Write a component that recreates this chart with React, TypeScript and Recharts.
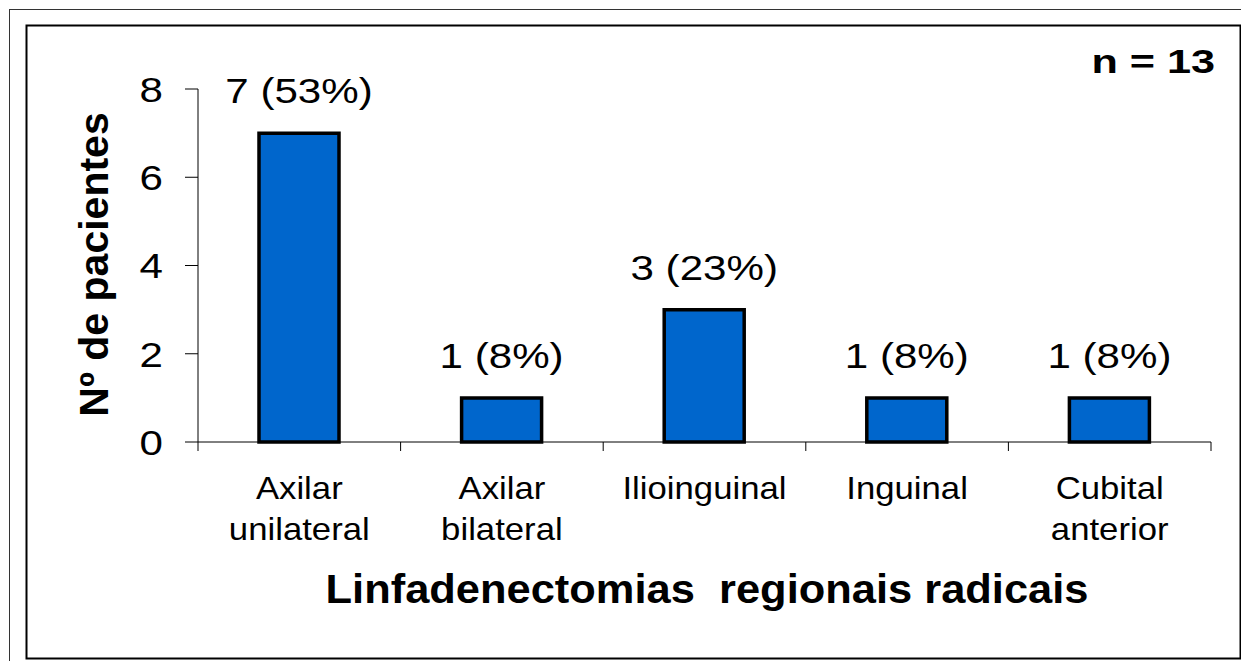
import React from "react";
import { BarChart, Bar, XAxis, YAxis, LabelList, Label } from "recharts";

const categories: string[] = ["Axilar\nunilateral", "Axilar\nbilateral", "Ilioinguinal", "Inguinal", "Cubital\nanterior"];
const patients: number[] = [7, 1, 3, 1, 1];
const percents: number[] = [53, 8, 23, 8, 8];
const yTicks: number[] = [0, 2, 4, 6, 8];
const xTitle = "Linfadenectomias  regionais radicais";
const yTitle = "Nº de pacientes";
const nLabel = "n = 13";

const data = categories.map((name, i) => ({ name, value: patients[i], pct: percents[i] }));

const W = 1241;
const H = 653;
const MARGIN = { top: 81, right: 38, bottom: 0, left: 0 };
const Y_AXIS_W = 190;
const X_AXIS_H = 219;
const PLOT_W = W - MARGIN.left - MARGIN.right - Y_AXIS_W;
const BAND = PLOT_W / categories.length;
const FONT = "'Liberation Sans', Arial, Helvetica, sans-serif";

const YTick = (props: any) => {
  const { x, y, payload } = props;
  return (
    <text
      transform={`translate(${x},${y}) scale(1.17,1)`}
      x={0}
      y={0}
      dy="0.355em"
      textAnchor="end"
      fontFamily={FONT}
      fontSize={36}
      fill="#000"
    >
      {payload.value}
    </text>
  );
};

const XTick = (props: any) => {
  const { x, y, payload, index } = props;
  const lines = String(payload.value).split("\n");
  const isLast = index === categories.length - 1;
  return (
    <g>
      <line x1={x - BAND / 2} x2={x - BAND / 2} y1={y} y2={y + 9} stroke="#000" strokeWidth={1} />
      {isLast && <line x1={x + BAND / 2} x2={x + BAND / 2} y1={y} y2={y + 9} stroke="#000" strokeWidth={1} />}
      {lines.map((ln, i) => (
        <text
          key={i}
          transform={`translate(${x},${y + 57 + i * 41}) scale(1.12,1)`}
          x={0}
          y={0}
          textAnchor="middle"
          fontFamily={FONT}
          fontSize={31}
          fill="#000"
        >
          {ln}
        </text>
      ))}
    </g>
  );
};

const BarLabel = (props: any) => {
  const { x, y, width, index } = props;
  const cx = Number(x) + Number(width) / 2;
  const txt = `${patients[index]} (${percents[index]}%)`;
  return (
    <text
      transform={`translate(${cx},${Number(y) - 30}) scale(1.17,1)`}
      x={0}
      y={0}
      textAnchor="middle"
      fontFamily={FONT}
      fontSize={36}
      fill="#000"
    >
      {txt}
    </text>
  );
};

const YTitle = () => (
  <text
    transform={`translate(100,256.5) rotate(-90)`}
    x={0}
    y={0}
    textAnchor="middle"
    fontFamily={FONT}
    fontSize={41}
    fontWeight="bold"
    fill="#000"
  >
    {yTitle}
  </text>
);

const XTitle = () => (
  <text
    transform={`translate(699,595) scale(1.06,1)`}
    x={0}
    y={0}
    textAnchor="middle"
    fontFamily={FONT}
    fontSize={41}
    fontWeight="bold"
    fill="#000"
    style={{ whiteSpace: "pre" }}
  >
    {xTitle}
  </text>
);

export default function App() {
  return (
    <div style={{ position: "relative", width: W, height: H, overflow: "hidden", background: "#fff" }}>
      <svg
        width={W}
        height={H}
        style={{ position: "absolute", left: 0, top: 0 }}
      >
        <rect x={1.5} y={1.5} width={3000} height={3000} fill="none" stroke="#333" strokeWidth={1} />
        <rect x={18.5} y={17.5} width={1214} height={633} fill="none" stroke="#000" strokeWidth={2} />
        <text
          transform={`translate(1207,65) scale(1.27,1)`}
          x={0}
          y={0}
          textAnchor="end"
          fontFamily={FONT}
          fontSize={34}
          fontWeight="bold"
          fill="#000"
        >
          {nLabel}
        </text>
      </svg>
      <div style={{ position: "absolute", left: 0, top: 0 }}>
        <BarChart width={W} height={H} data={data} margin={MARGIN}>
          <XAxis
            dataKey="name"
            type="category"
            height={X_AXIS_H}
            axisLine={{ stroke: "#000", strokeWidth: 1 }}
            tickLine={false}
            tickSize={0}
            tickMargin={0}
            tick={<XTick />}
            interval={0}
          >
            <Label content={<XTitle />} />
          </XAxis>
          <YAxis
            width={Y_AXIS_W}
            domain={[0, 8]}
            ticks={yTicks}
            interval={0}
            axisLine={{ stroke: "#000", strokeWidth: 1 }}
            tickLine={{ stroke: "#000", strokeWidth: 1 }}
            tickSize={13}
            tickMargin={22}
            tick={<YTick />}
          >
            <Label content={<YTitle />} />
          </YAxis>
          <Bar
            dataKey="value"
            fill="#0066CC"
            stroke="#000"
            strokeWidth={3.5}
            barSize={80}
            isAnimationActive={false}
          >
            <LabelList dataKey="value" content={<BarLabel />} />
          </Bar>
        </BarChart>
      </div>
    </div>
  );
}
